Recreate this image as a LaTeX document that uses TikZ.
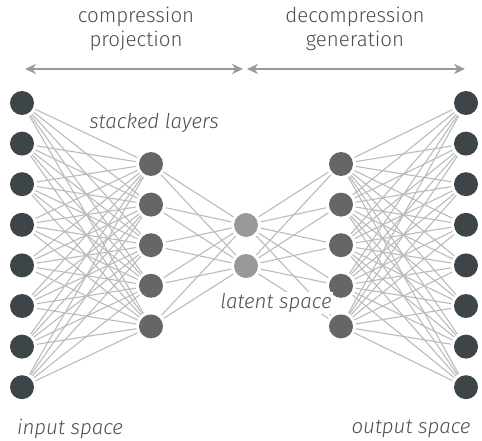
\documentclass[tikz,border=0pt]{standalone}
\usepackage{fontspec}
\setmainfont{Fira Sans}[UprightFont={* Light}, ItalicFont={* Light Italic}]
\usetikzlibrary{arrows.meta}
\definecolor{dark}{HTML}{3D4548}
\definecolor{mid}{HTML}{666666}
\definecolor{light}{HTML}{999999}
\definecolor{edge}{HTML}{BBBBBB}
\definecolor{txt}{HTML}{484E51}
\definecolor{arr}{HTML}{999999}
\tikzset{
  neuron/.style={circle, minimum size=24pt, inner sep=0pt, outer sep=0pt},
  ionode/.style={neuron, fill=dark},
  hidnode/.style={neuron, fill=mid},
  latnode/.style={neuron, fill=light},
  conn/.style={draw=edge, line width=1.1pt, shorten <=3pt, shorten >=3pt},
  lab/.style={text=txt, font=\fontsize{20.5}{24}\selectfont, align=center, inner sep=1pt},
  ilab/.style={text=txt, font=\fontsize{20.5}{24}\selectfont\itshape, inner sep=1pt},
  bigarrow/.style={draw=arr, line width=2.4pt, {Stealth[length=11pt,width=10pt]}-{Stealth[length=11pt,width=10pt]}}
}
\begin{document}
\begin{tikzpicture}[x=1pt,y=-1pt]
\useasboundingbox (0,0) rectangle (482,441);
% nodes
\foreach \i in {1,...,8} {
  \node[ionode] (in\i) at (22, {103+(\i-1)*40.6}) {};
  \node[ionode] (out\i) at (466, {103+(\i-1)*40.6}) {};
}
\foreach \i in {1,...,5} {
  \node[hidnode] (h\i) at (151, {164+(\i-1)*40.6}) {};
  \node[hidnode] (g\i) at (341, {164+(\i-1)*40.6}) {};
}
\node[latnode] (z1) at (246, 225) {};
\node[latnode] (z2) at (246, 266) {};
% connections
\foreach \i in {1,...,8} \foreach \j in {1,...,5} {
  \draw[conn] (in\i) -- (h\j);
  \draw[conn] (g\j) -- (out\i);
}
\foreach \j in {1,...,5} \foreach \k in {1,2} {
  \draw[conn] (h\j) -- (z\k);
  \draw[conn] (z\k) -- (g\j);
}
% arrows
\coordinate (a1) at (25,69);
\coordinate (a2) at (243,69);
\coordinate (a3) at (247,69);
\coordinate (a4) at (465,69);
\draw[bigarrow] (a1) -- (a2);
\draw[bigarrow] (a3) -- (a4);
% labels
\node[lab] (t1) at (136,29) {compression\\projection};
\node[lab] (t2) at (355,29) {decompression\\generation};
\node[ilab] (sl) at (154,123) {stacked layers};
\node[ilab, fill=white] (ls) at (276,303) {latent space};
\node[ilab] (is) at (70,429) {input space};
\node[ilab] (os) at (411,429) {output space};
\end{tikzpicture}
\end{document}
